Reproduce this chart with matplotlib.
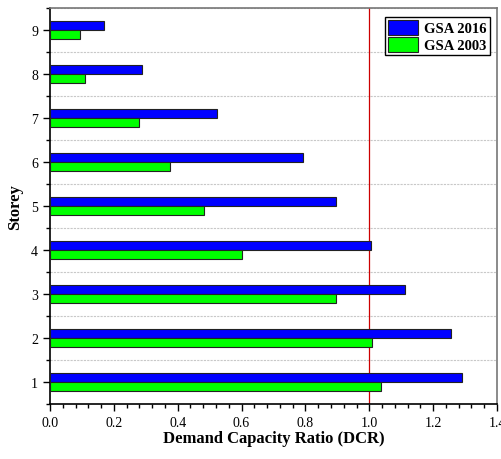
import numpy as np
import matplotlib.pyplot as plt
from matplotlib.ticker import MultipleLocator

plt.rcParams['font.family'] = ['Liberation Serif', 'DejaVu Serif']

storeys = [1, 2, 3, 4, 5, 6, 7, 8, 9]
gsa_2016 = [1.29, 1.257, 1.111, 1.004, 0.896, 0.791, 0.523, 0.287, 0.168]
gsa_2003 = [1.038, 1.01, 0.895, 0.601, 0.481, 0.377, 0.28, 0.11, 0.093]

fig = plt.figure(figsize=(5.02, 4.6), dpi=100)
ax = fig.add_axes([0.0996, 0.1196, 0.8904, 0.8608])

y = np.array(storeys)
h = 0.2
ax.barh(y + h / 2, gsa_2016, height=h, color='#0000ff', edgecolor='#222222',
        linewidth=0.8, label='GSA 2016', zorder=3)
ax.barh(y - h / 2, gsa_2003, height=h, color='#00ff00', edgecolor='#222222',
        linewidth=0.8, label='GSA 2003', zorder=3)

ax.axvline(1.0, color='#cc0000', linewidth=0.9, zorder=2)

ax.set_xlim(0, 1.4)
ax.set_ylim(0.5, 9.5)
ax.xaxis.set_major_locator(MultipleLocator(0.2))
ax.xaxis.set_minor_locator(MultipleLocator(0.04))
ax.yaxis.set_major_locator(MultipleLocator(1))
ax.yaxis.set_minor_locator(MultipleLocator(0.5))
ax.set_xticks(np.arange(0, 1.41, 0.2))
ax.set_xticklabels(['0.0', '0.2', '0.4', '0.6', '0.8', '1.0', '1.2', '1.4'])
ax.tick_params(which='major', direction='out', length=5, width=1, labelsize=10)
ax.tick_params(which='minor', direction='out', length=3, width=1)
ax.tick_params(axis='y', which='both', right=False)
ax.tick_params(axis='x', which='both', top=False)

ax.grid(axis='y', which='minor', color='#c8c8c8', linestyle=(0, (2, 1)),
        linewidth=0.8, zorder=0)

for s in ['left', 'bottom']:
    ax.spines[s].set_color('black')
    ax.spines[s].set_linewidth(1.2)
for s in ['top', 'right']:
    ax.spines[s].set_color('#777777')
    ax.spines[s].set_linewidth(1.2)

ax.set_xlabel('Demand Capacity Ratio (DCR)', fontsize=12, fontweight='bold',
              labelpad=1)
ax.set_ylabel('Storey', fontsize=12, fontweight='bold', labelpad=6)

leg = ax.legend(loc='upper right', bbox_to_anchor=(0.99, 0.985), fancybox=False,
                edgecolor='black', framealpha=1, prop={'weight': 'bold', 'size': 10.5},
                handlelength=2.1, handleheight=1.2, labelspacing=0.1,
                handletextpad=0.4, borderpad=0.2, borderaxespad=0.2)
leg.get_frame().set_linewidth(1.0)

fig.savefig('out.png', dpi=100)
